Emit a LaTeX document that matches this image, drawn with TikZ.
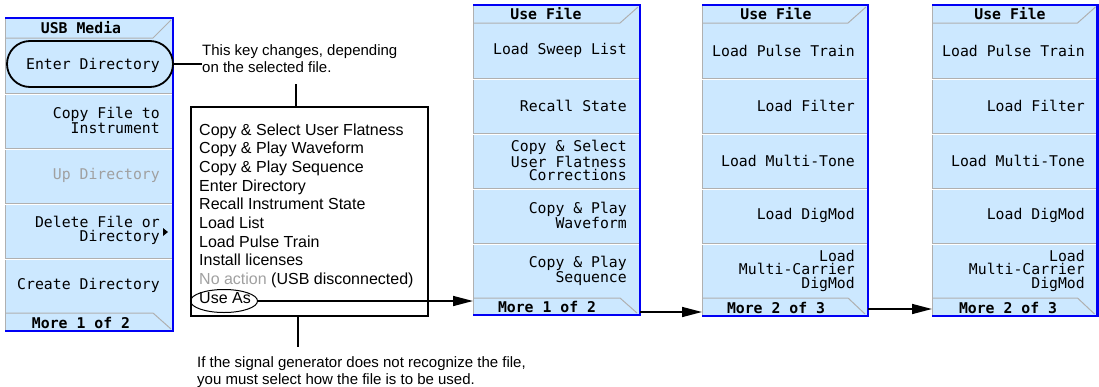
\documentclass[tikz,border=0pt]{standalone}
\usepackage{fontspec}
\setmainfont{Liberation Sans}
\newfontfamily\keyfont{DejaVu Sans Mono}
\usetikzlibrary{arrows.meta,shapes.geometric,positioning}
\definecolor{panelblue}{RGB}{204,232,255}
\definecolor{rimblue}{RGB}{0,0,245}
\definecolor{sepgray}{RGB}{176,176,176}
\definecolor{mutegray}{RGB}{160,160,160}
\tikzset{
    softpanel/.style={fill=panelblue, inner sep=0pt, outer sep=0pt, anchor=north west},
    panelrim/.style={draw=rimblue, line width=2.4pt},
    keyline/.style={draw=sepgray, line width=1pt},
    keyshine/.style={draw=white, line width=0.8pt},
    keylabel/.style={font=\keyfont\fontsize{14.8}{13.5}\selectfont, align=right, anchor=east, inner sep=0pt},
    keytitle/.style={font=\keyfont\bfseries\fontsize{14.8}{14}\selectfont, inner sep=0pt},
    notetext/.style={font=\fontsize{15}{17.7}\selectfont, align=left, inner sep=0pt, anchor=north west},
    listtext/.style={font=\fontsize{16}{18.7}\selectfont, inner sep=0pt, anchor=base west},
    linkarrow/.style={-{Triangle[length=20pt,width=10pt]}, line width=1.5pt},
}
\begin{document}
\begin{tikzpicture}[x=1pt,y=-1pt]
    \useasboundingbox (0,0) rectangle (1099,386);
    % USB Media menu
    \node[softpanel, minimum width=168, minimum height=313] (usbmedia) at (5,18) {};
    \draw[sepgray] (usbmedia.north west) -- (usbmedia.south west);
    \foreach \y in {93,148,203,258}
        {
            \draw[keyline] (5,\y) -- (173,\y);
            \draw[keyshine] (5,\y+1) -- (173,\y+1);
        }
    \draw[keyline] (5,38) -- (153,38) -- (171,20);
    \draw[keyline] (5,313) -- (153,313) -- (171,329);
    \draw[panelrim] (usbmedia.north west) -- (usbmedia.north east) -- (usbmedia.south east) -- (usbmedia.south west);
    \node[keytitle] (usbtitle) at (81,28) {USB Media};
    \node[keytitle] (usbmore) at (81,322.5) {More 1 of 2};
    \foreach \lbl [count=\i] in {Enter Directory, {Copy File to\\Instrument}, {\color{mutegray}Up Directory}, {Delete File or\\Directory}, Create Directory}
        \node[keylabel] (usbkey\i) at (160,38+55*\i-27.5) {\lbl};
    \fill (163,228) -- (168,232) -- (163,236) -- cycle;
    \node[draw, line width=1.8pt, rounded corners=23pt, minimum width=166, minimum height=46, inner sep=0pt] (enterring) at (90,64) {};

    % note on the changing key
    \node[notetext] (keynote) at (202,44) {This key changes, depending\\on the selected file.};
    \draw[line width=1.3pt] (enterring.east) -- (enterring.east -| keynote.west);
    \coordinate (keyfoot) at (296,84);
    \node[draw, line width=2pt, minimum width=237, minimum height=209, inner sep=0pt, anchor=north west] (actionbox) at (190,106) {};
    \draw[line width=1.3pt] (keyfoot) -- (keyfoot |- actionbox.north);
    \foreach \act [count=\i] in {Copy \& Select User Flatness, Copy \& Play Waveform, Copy \& Play Sequence, Enter Directory, Recall Instrument State, Load List, Load Pulse Train, Install licenses, {{\color{mutegray}No action} (USB disconnected)}, Use As}
        \node[listtext] (act\i) at (199,116.3+18.7*\i) {\act};
    \node[draw, ellipse, line width=1pt, minimum width=67, minimum height=23, inner sep=0pt] (useas) at (224,301) {};
    \coordinate (hintfoot) at (298,347);
    \draw[line width=1.3pt] (actionbox.south -| hintfoot) -- (hintfoot);
    \node[notetext] (hint) at (197,356) {If the signal generator does not recognize the file,\\you must select how the file is to be used.};

    % Use File menus
    \node[softpanel, minimum width=167, minimum height=310] (usefileA) at (473,5) {};
    \node[softpanel, minimum width=166, minimum height=311] (usefileB) at (702,5) {};
    \node[softpanel, minimum width=165.5, minimum height=311] (usefileC) at (932,5) {};
    \foreach \l/\r/\m in {473/640/315, 702/868/316, 932/1097.5/316}
        {
            \draw[sepgray] (\l,5) -- (\l,\m);
            \foreach \y in {78,133,188,243}
                {
                    \draw[keyline] (\l,\y) -- (\r,\y);
                    \draw[keyshine] (\l,\y+1) -- (\r,\y+1);
                }
            \draw[keyline] (\l,23) -- (\r-20,23) -- (\r-2,7);
            \draw[keyline] (\l,298) -- (\r-20,298) -- (\r-3,\m-2);
            \draw[panelrim] (\l,5) -- (\r,5) -- (\r,\m) -- (\l,\m);
        }
    \node[keytitle] (titleA) at (546,14) {Use File};
    \node[keytitle] (titleB) at (776,14) {Use File};
    \node[keytitle] (titleC) at (1010,14) {Use File};
    \node[keytitle] (moreA) at (547,307) {More 1 of 2};
    \node[keytitle] (moreB) at (776,307.5) {More 2 of 3};
    \node[keytitle] (moreC) at (1008,307.5) {More 2 of 3};
    \foreach \lbl [count=\i] in {Load Sweep List, Recall State, {Copy \& Select\\User Flatness\\Corrections}, {Copy \& Play\\Waveform}, {Copy \& Play\\Sequence}}
        \node[keylabel] (fileAkey\i) at (627,23+55*\i-27.5) {\lbl};
    \foreach \lbl [count=\i] in {Load Pulse Train, Load Filter, Load Multi-Tone, Load DigMod, {Load\\Multi-Carrier\\DigMod}}
        {
            \node[keylabel] (fileBkey\i) at (855,23+55*\i-27.5) {\lbl};
            \node[keylabel] (fileCkey\i) at (1085,23+55*\i-27.5) {\lbl};
        }

    % arrows between menus
    \draw[linkarrow] (useas.east) -- (useas.east -| usefileA.west);
    \draw[linkarrow] ([yshift=3pt]usefileA.south east) -- ([yshift=3pt]usefileA.south east -| usefileB.west);
    \draw[linkarrow] ([yshift=7pt]usefileB.south east) -- ([yshift=7pt]usefileB.south east -| usefileC.west);
\end{tikzpicture}
\end{document}
